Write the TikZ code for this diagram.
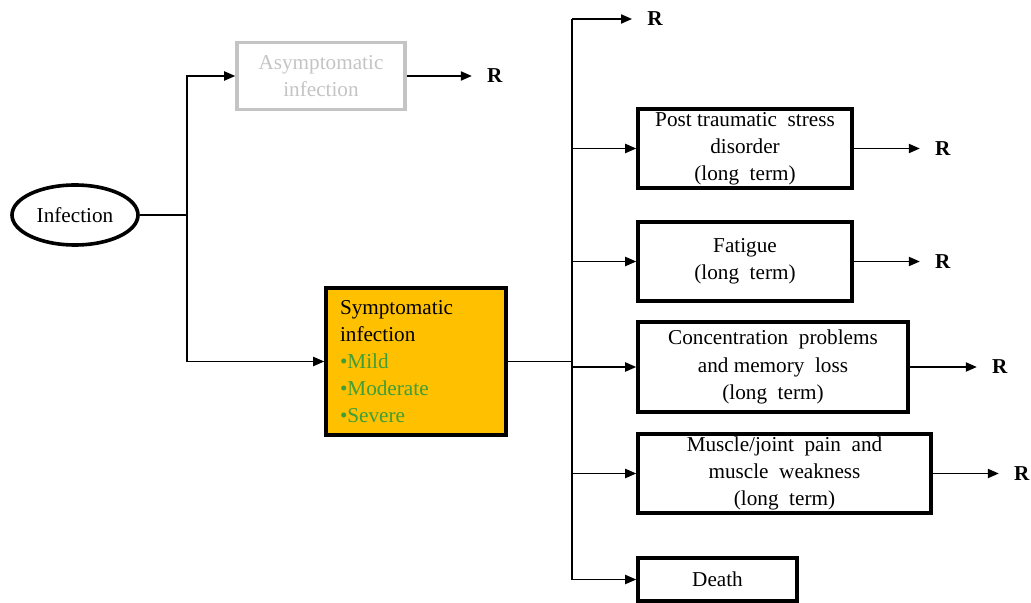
\documentclass[tikz,border=0pt]{standalone}
\usepackage{fontspec}
\setmainfont{Liberation Serif}
\usetikzlibrary{arrows.meta,shapes.geometric}
\definecolor{symfill}{HTML}{FFC000}
\definecolor{mildgreen}{HTML}{3E9E3A}
\definecolor{asymgray}{HTML}{C4C4C4}

\begin{document}
\begin{tikzpicture}[x=0.5pt,y=-0.5pt,
  font=\fontsize{10.6}{13.6}\selectfont,
  box/.style={draw,line width=1.8pt,inner sep=0pt,align=center},
  link/.style={line width=0.75pt},
  flow/.style={line width=0.75pt,-{Triangle[length=5.5pt,width=4.6pt]}},
  rnode/.style={anchor=west,inner xsep=7.5pt,inner ysep=0pt,font=\fontsize{10.6}{13.6}\selectfont\bfseries}]
  \useasboundingbox (0,0) rectangle (1031,603);
  \node[ellipse,draw,line width=1.8pt,minimum width=63pt,minimum height=30pt,inner sep=0pt] (inf) at (75,215) {Infection};
  \node[box,draw=asymgray,text=asymgray,minimum width=84pt,minimum height=33.5pt] (asym) at (321,76) {Asymptomatic\\infection};
  \node[box,fill=symfill,align=left,text width=76pt,inner xsep=7pt,minimum height=73.5pt] (sym) at (416,361.5)
    {Symptomatic\\infection\\\textcolor{mildgreen}{•Mild}\\\textcolor{mildgreen}{•Moderate}\\\textcolor{mildgreen}{•Severe}};
  \node[box,minimum width=107pt,minimum height=39.5pt] (ptsd) at (745,148.5) {Post traumatic\ \ stress\\disorder\\(long\ \ term)};
  \node[box,minimum width=107pt,minimum height=39.5pt] (fat) at (745,261.5) {Fatigue\\(long\ \ term)};
  \node[box,minimum width=135pt,minimum height=45pt] (conc) at (773,367) {Concentration\ \ problems\\and memory\ \ loss\\(long\ \ term)};
  \node[box,minimum width=146.5pt,minimum height=39.5pt] (musc) at (784.5,473.5) {Muscle/joint\ \ pain\ \ and\\muscle\ \ weakness\\(long\ \ term)};
  \node[box,minimum width=79.5pt,minimum height=21.5pt] (death) at (717.5,579.5) {Death};

  \node[rnode] (r0) at (632,19) {R};
  \node[rnode] (r1) at ([xshift=32.5pt]asym.east) {R};
  \node[rnode] (r2) at ([xshift=33pt]ptsd.east) {R};
  \node[rnode] (r3) at ([xshift=33pt]fat.east) {R};
  \node[rnode] (r4) at ([xshift=33.5pt]conc.east) {R};
  \node[rnode] (r5) at ([xshift=33pt]musc.east) {R};

  \coordinate (split) at (187,215);
  \coordinate (hub) at (572,361.5);
  \coordinate (hubtop) at (572,19);
  \coordinate (hubbot) at (572,579.5);

  \draw[link] (inf.east) -- (split);
  \draw[flow] (split) |- (asym.west);
  \draw[flow] (split) |- (sym.west);
  \draw[flow] (asym.east) -- (r1.west);

  \draw[link] (sym.east) -- (hub);
  \draw[link] (hubtop) -- (hubbot);
  \draw[flow] (hubtop) -- (r0.west);
  \draw[flow] (hub |- ptsd.west) -- (ptsd.west);
  \draw[flow] (hub |- fat.west) -- (fat.west);
  \draw[flow] (hub |- conc.west) -- (conc.west);
  \draw[flow] (hub |- musc.west) -- (musc.west);
  \draw[flow] (hubbot) -- (death.west);

  \draw[flow] (ptsd.east) -- (r2.west);
  \draw[flow] (fat.east) -- (r3.west);
  \draw[flow] (conc.east) -- (r4.west);
  \draw[flow] (musc.east) -- (r5.west);
\end{tikzpicture}
\end{document}
